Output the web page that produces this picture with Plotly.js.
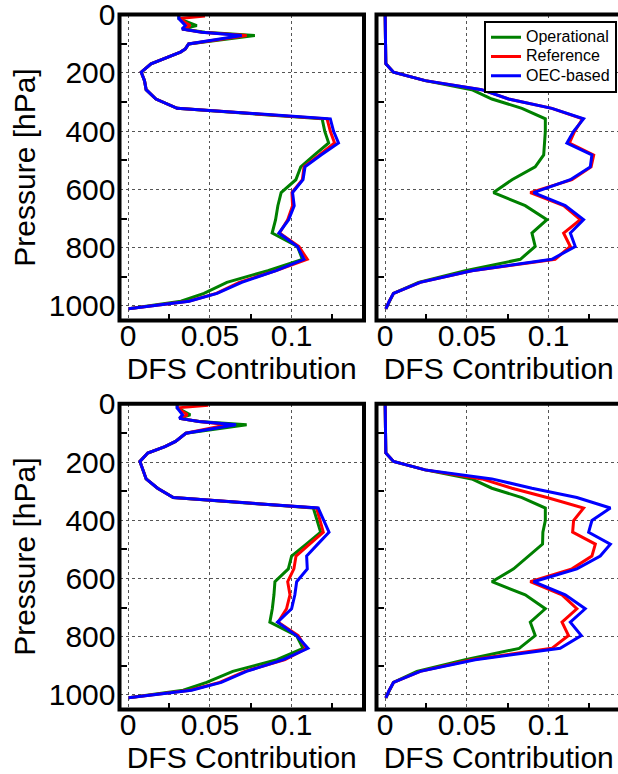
<!DOCTYPE html>
<html>
<head>
<meta charset="utf-8">
<script src="https://cdn.plot.ly/plotly-3.0.1.min.js"></script>
<style>
html, body { margin: 0; padding: 0; overflow: hidden; background: #fff; }
#chart { width: 640px; height: 774px; }
</style>
</head>
<body>
<div id="chart"></div>
<script>
// Pressure levels [hPa]
const pressure = [5, 14, 38, 50, 61, 72, 101, 118, 129, 147, 169, 198, 227, 258, 290, 322, 358, 401, 441, 482, 523, 567, 611, 656, 704, 750, 796, 840, 879, 919, 957, 984, 1010];

const seriesNames = ['Operational', 'Reference', 'OEC-based'];
const seriesColors = ['#008000', '#ff0000', '#0000ff'];

// Top-left panel
const tlOperational = [0.031, 0.031, 0.042, 0.033, 0.047, 0.0775, 0.037, 0.035, 0.032, 0.024, 0.014, 0.008, 0.010, 0.011, 0.017, 0.030, 0.1187, 0.1203, 0.1227, 0.114, 0.1056, 0.1026, 0.0936, 0.0916, 0.0902, 0.0881, 0.1036, 0.1066, 0.0855, 0.0604, 0.0464, 0.0323, 0.0002];
const tlReference   = [0.047, 0.031, 0.038, 0.033, 0.045, 0.0725, 0.037, 0.035, 0.032, 0.024, 0.014, 0.008, 0.010, 0.011, 0.017, 0.030, 0.1217, 0.1237, 0.1263, 0.117, 0.1076, 0.1066, 0.1002, 0.1006, 0.0976, 0.0926, 0.1045, 0.1096, 0.0905, 0.068, 0.054, 0.037, 0.0002];
const tlOEC         = [0.031, 0.031, 0.035, 0.033, 0.045, 0.0695, 0.037, 0.035, 0.032, 0.024, 0.014, 0.008, 0.010, 0.011, 0.017, 0.030, 0.1237, 0.1257, 0.1287, 0.118, 0.1082, 0.107, 0.1006, 0.1016, 0.0982, 0.0922, 0.1036, 0.1076, 0.0905, 0.0695, 0.0544, 0.0373, 0.0002];

// Top-right panel
const trOperational = [0, 0, 0.0001, 0.0001, 0.0001, 0.0001, 0.0002, 0.0002, 0.0002, 0.0003, 0.0004, 0.0051, 0.0245, 0.053, 0.0653, 0.0837, 0.098, 0.098, 0.0973, 0.097, 0.0918, 0.0776, 0.0663, 0.0857, 0.099, 0.0898, 0.0918, 0.0827, 0.049, 0.0204, 0.0051, 0.0025, 0.0004];
const trReference   = [0, 0, 0.0001, 0.0001, 0.0001, 0.0001, 0.0002, 0.0002, 0.0002, 0.0003, 0.0004, 0.0051, 0.0245, 0.059, 0.0755, 0.102, 0.1208, 0.1159, 0.1127, 0.1276, 0.126, 0.1143, 0.0888, 0.1092, 0.1194, 0.1092, 0.1133, 0.104, 0.053, 0.0214, 0.0051, 0.0025, 0.0004];
const trOEC         = [0, 0, 0.0001, 0.0001, 0.0001, 0.0001, 0.0002, 0.0002, 0.0002, 0.0003, 0.0004, 0.0051, 0.0245, 0.059, 0.0755, 0.102, 0.1214, 0.1153, 0.1112, 0.1265, 0.1255, 0.1133, 0.0908, 0.1102, 0.1214, 0.1133, 0.1163, 0.102, 0.053, 0.0214, 0.0051, 0.0025, 0.0004];

// Bottom-left panel
const blOperational = [0.030, 0.030, 0.038, 0.0313, 0.0434, 0.0725, 0.0353, 0.0313, 0.029, 0.0225, 0.012, 0.0072, 0.009, 0.011, 0.018, 0.0276, 0.1133, 0.1157, 0.1178, 0.109, 0.100, 0.098, 0.0898, 0.0892, 0.0882, 0.0867, 0.103, 0.107, 0.091, 0.064, 0.048, 0.0337, 0.0002];
const blReference   = [0.049, 0.030, 0.0363, 0.0313, 0.0434, 0.061, 0.0353, 0.0313, 0.029, 0.0225, 0.012, 0.0072, 0.009, 0.011, 0.018, 0.0276, 0.1153, 0.1175, 0.1194, 0.111, 0.1027, 0.1014, 0.0976, 0.099, 0.0969, 0.0918, 0.104, 0.109, 0.096, 0.0714, 0.056, 0.0378, 0.0002];
const blOEC         = [0.030, 0.030, 0.0333, 0.0313, 0.0434, 0.066, 0.0353, 0.0313, 0.029, 0.0225, 0.012, 0.0072, 0.009, 0.011, 0.018, 0.0276, 0.1163, 0.1198, 0.1229, 0.116, 0.1092, 0.1096, 0.1031, 0.102, 0.100, 0.0914, 0.103, 0.110, 0.095, 0.0724, 0.057, 0.0388, 0.0002];

// Bottom-right panel
const brOperational = [0, 0, 0.0001, 0.0001, 0.0001, 0.0001, 0.0002, 0.0002, 0.0002, 0.0003, 0.0004, 0.0051, 0.0245, 0.053, 0.0653, 0.0837, 0.098, 0.098, 0.0965, 0.0963, 0.088, 0.0786, 0.0653, 0.0857, 0.098, 0.0888, 0.0918, 0.082, 0.049, 0.0194, 0.0051, 0.0025, 0.0004];
const brReference   = [0, 0, 0.0001, 0.0001, 0.0001, 0.0001, 0.0002, 0.0002, 0.0002, 0.0003, 0.0004, 0.0051, 0.0245, 0.0592, 0.0776, 0.099, 0.1214, 0.1153, 0.1147, 0.1286, 0.1265, 0.1143, 0.0888, 0.1082, 0.1173, 0.1082, 0.1122, 0.102, 0.053, 0.0214, 0.0051, 0.0025, 0.0004];
const brOEC         = [0, 0, 0.0001, 0.0001, 0.0001, 0.0001, 0.0002, 0.0002, 0.0002, 0.0003, 0.0004, 0.0051, 0.0245, 0.0653, 0.0898, 0.1173, 0.1378, 0.1265, 0.1245, 0.1378, 0.1316, 0.1173, 0.0908, 0.1102, 0.1224, 0.1133, 0.12, 0.1071, 0.0551, 0.0214, 0.0051, 0.0025, 0.0004];

const xTitleText = 'DFS Contribution';
const yTitleText = 'Pressure [hPa]';

const panels = [
  {x: 'x',  y: 'y',  data: [tlOperational, tlReference, tlOEC], legend: false},
  {x: 'x2', y: 'y2', data: [trOperational, trReference, trOEC], legend: true},
  {x: 'x3', y: 'y3', data: [blOperational, blReference, blOEC], legend: false},
  {x: 'x4', y: 'y4', data: [brOperational, brReference, brOEC], legend: false}
];

const traces = [];
panels.forEach(p => {
  p.data.forEach((vals, i) => {
    traces.push({
      type: 'scatter', mode: 'lines',
      x: vals, y: pressure,
      xaxis: p.x, yaxis: p.y,
      name: '<span style="font-size:16px">' + seriesNames[i] + '</span>',
      showlegend: p.legend,
      line: {color: seriesColors[i], width: 3}
    });
  });
});

const W = 640, H = 774;
const FONT = 'Liberation Sans, Arial, Helvetica, sans-serif';
const XRANGE = [-0.0053, 0.1443];

function xAxis(pxL, pxR, anchor) {
  return {
    domain: [pxL / W, pxR / W], range: XRANGE, anchor: anchor,
    tick0: 0, dtick: 0.05, ticks: '', showline: false, zeroline: false,
    mirror: 'ticks',
    showgrid: true, gridcolor: '#555', griddash: 'dot', gridwidth: 1,
    minor: {tick0: 0, dtick: 0.025, ticks: 'inside', ticklen: 7, tickwidth: 2, tickcolor: '#000', showgrid: false},
    tickfont: {size: 30, color: '#000', family: FONT},
    ticklabelstandoff: -6,
    ticklabeloverflow: 'allow',
    title: {text: xTitleText, font: {size: 30, color: '#000', family: FONT}, standoff: 0}
  };
}
function yAxis(pxT, pxB, anchor, showLabels) {
  return {
    domain: [1 - pxB / H, 1 - pxT / H], range: [1050, 0], anchor: anchor,
    tick0: 0, dtick: 200, ticks: '', showline: false, zeroline: false,
    mirror: 'ticks',
    showgrid: true, gridcolor: '#555', griddash: 'dot', gridwidth: 1,
    minor: {tick0: 0, dtick: 100, ticks: 'inside', ticklen: 7, tickwidth: 2, tickcolor: '#000', showgrid: false},
    showticklabels: showLabels,
    tickfont: {size: 30, color: '#000', family: FONT},
    ticklabelstandoff: 3,
    ticklabeloverflow: 'allow',
    title: showLabels ? {text: yTitleText, font: {size: 30, color: '#000', family: FONT}, standoff: 4} : {text: ''}
  };
}

const frame = (xr, yr) => ({type: 'rect', xref: xr + ' domain', yref: yr + ' domain', x0: 0, x1: 1, y0: 0, y1: 1, line: {color: '#000', width: 4}, layer: 'above'});

const layout = {
  width: W, height: H,
  margin: {l: 0, r: 0, t: 0, b: 0},
  paper_bgcolor: '#fff', plot_bgcolor: '#fff',
  font: {family: FONT, color: '#000'},
  xaxis:  xAxis(119.5, 364, 'y'),
  xaxis2: xAxis(376.5, 621, 'y2'),
  xaxis3: xAxis(119.5, 364, 'y3'),
  xaxis4: xAxis(376.5, 621, 'y4'),
  yaxis:  yAxis(14.5, 320.5, 'x', true),
  yaxis2: yAxis(14.5, 320.5, 'x2', false),
  yaxis3: yAxis(403.8, 709.5, 'x3', true),
  yaxis4: yAxis(403.8, 709.5, 'x4', false),
  shapes: [frame('x', 'y'), frame('x2', 'y2'), frame('x3', 'y3'), frame('x4', 'y4')],
  showlegend: true,
  legend: {
    x: 484 / W, y: 1 - 20.7 / H, xanchor: 'left', yanchor: 'top',
    bgcolor: '#fff', bordercolor: '#000', borderwidth: 2,
    font: {size: 12.5, color: '#000', family: FONT},
    tracegroupgap: 0
  }
};

Plotly.newPlot('chart', traces, layout, {displayModeBar: false, staticPlot: true});
</script>
</body>
</html>
